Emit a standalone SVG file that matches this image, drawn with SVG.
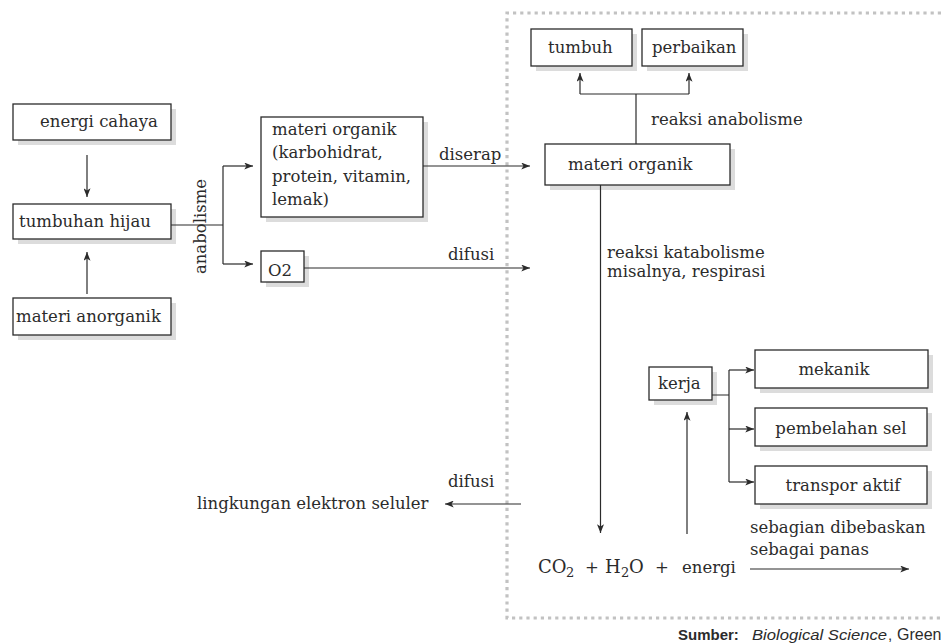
<svg xmlns="http://www.w3.org/2000/svg" width="941" height="644" viewBox="0 0 941 644">
<style>
.box{fill:#fff;stroke:#2b2b2b;stroke-width:1.3}
.sh{fill:#dcdcdc}
.t{font-family:"DejaVu Serif","Liberation Serif",serif;font-size:16.5px;fill:#2b2b2b}
.big{font-size:18px}
.sub{font-size:13px}
.ln{fill:none;stroke:#2b2b2b;stroke-width:1.2}
.ar{marker-end:url(#ah)}
.sans{font-family:"Liberation Sans",Arial,sans-serif;font-size:15px;fill:#2b2b2b}
</style>
<defs>
<marker id="ah" viewBox="0 0 10 8" refX="10" refY="4" markerWidth="9" markerHeight="7" markerUnits="userSpaceOnUse" orient="auto">
<path d="M0,0 L10,4 L0,8 L2.5,4 z" fill="#2b2b2b"/>
</marker>
</defs>
<rect width="941" height="644" fill="#fff"/>
<path d="M941,13 H507 V618 H941" fill="none" stroke="#c2c2c2" stroke-width="3.2" stroke-dasharray="3.2 4"/>

<g id="energi-cahaya"><rect class="sh" x="18" y="109" width="158" height="36"/><rect class="box" x="13" y="104" width="158" height="36"/><text class="t" x="40" y="127">energi cahaya</text></g>
<g id="tumbuhan-hijau"><rect class="sh" x="18" y="209" width="158" height="35"/><rect class="box" x="13" y="204" width="158" height="35"/><text class="t" x="19" y="227">tumbuhan hijau</text></g>
<g id="materi-anorganik"><rect class="sh" x="18" y="303" width="158" height="37"/><rect class="box" x="13" y="298" width="158" height="37"/><text class="t" x="16" y="322">materi anorganik</text></g>
<g id="materi-organik-kiri"><rect class="sh" x="266" y="122" width="162" height="100"/><rect class="box" x="261" y="117" width="162" height="100"/>
<text class="t" x="272" y="135">materi organik</text><text class="t" x="272" y="158">(karbohidrat,</text><text class="t" x="272" y="182">protein, vitamin,</text><text class="t" x="272" y="205">lemak)</text></g>
<g id="o2"><rect class="sh" x="266" y="256" width="43" height="31"/><rect class="box" x="261" y="251" width="43" height="31"/><text class="t" x="268" y="276">O2</text></g>
<g id="tumbuh"><rect class="sh" x="536" y="34" width="101" height="37"/><rect class="box" x="531" y="29" width="101" height="37"/><text class="t" x="548" y="53">tumbuh</text></g>
<g id="perbaikan"><rect class="sh" x="647" y="34" width="101" height="37"/><rect class="box" x="642" y="29" width="101" height="37"/><text class="t" x="652" y="53">perbaikan</text></g>
<g id="materi-organik-kanan"><rect class="sh" x="550" y="149" width="185" height="41"/><rect class="box" x="545" y="144" width="185" height="41"/><text class="t" x="568" y="170">materi organik</text></g>
<g id="kerja"><rect class="sh" x="654" y="372" width="63" height="33"/><rect class="box" x="649" y="367" width="63" height="33"/><text class="t" x="658" y="389">kerja</text></g>
<g id="mekanik"><rect class="sh" x="760" y="355" width="173" height="38"/><rect class="box" x="755" y="350" width="173" height="38"/><text class="t" x="834" y="375" text-anchor="middle">mekanik</text></g>
<g id="pembelahan-sel"><rect class="sh" x="760" y="413" width="172" height="38"/><rect class="box" x="755" y="408" width="172" height="38"/><text class="t" x="841" y="434" text-anchor="middle">pembelahan sel</text></g>
<g id="transpor-aktif"><rect class="sh" x="760" y="471" width="172" height="38"/><rect class="box" x="755" y="466" width="172" height="38"/><text class="t" x="843" y="491" text-anchor="middle">transpor aktif</text></g>

<g id="connectors">
<path class="ln ar" d="M87,155 V197"/>
<path class="ln ar" d="M87,294 V252"/>
<path class="ln" d="M171,225 H223 M223,166 V264"/>
<path class="ln ar" d="M223,166 H253"/>
<path class="ln ar" d="M223,264 H253"/>
<path class="ln ar" d="M423,166 H530"/>
<path class="ln ar" d="M304,268 H530"/>
<path class="ln" d="M636,144 V94 M580,94 H689"/>
<path class="ln ar" d="M580,94 V73"/>
<path class="ln ar" d="M689,94 V73"/>
<path class="ln ar" d="M600.5,185 V533"/>
<path class="ln ar" d="M687,534 V412"/>
<path class="ln" d="M712,395 H729 M729,370 V482"/>
<path class="ln ar" d="M729,370 H754"/>
<path class="ln ar" d="M729,429 H754"/>
<path class="ln ar" d="M729,482 H754"/>
<path class="ln ar" d="M750,569 H909"/>
<path class="ln ar" d="M521,504 H445"/>
</g>

<g id="labels">
<text class="t" transform="translate(206,226.5) rotate(-90)" text-anchor="middle">anabolisme</text>
<text class="t" x="439" y="160">diserap</text>
<text class="t" x="448" y="260">difusi</text>
<text class="t" x="651" y="125">reaksi anabolisme</text>
<text class="t" x="607" y="258">reaksi katabolisme</text>
<text class="t" x="607" y="277">misalnya, respirasi</text>
<text class="t" x="448" y="487">difusi</text>
<text class="t" x="197" y="509">lingkungan elektron seluler</text>
<text class="t" x="750" y="533">sebagian dibebaskan</text>
<text class="t" x="750" y="555">sebagai panas</text>
<text class="t big" x="538" y="573">CO</text>
<text class="t sub" x="566" y="577">2</text>
<text class="t" x="585" y="573">+</text>
<text class="t big" x="605" y="573">H</text>
<text class="t sub" x="621" y="577">2</text>
<text class="t big" x="629" y="573">O</text>
<text class="t" x="655" y="573">+</text>
<text class="t" x="682" y="573">energi</text>
<text class="sans" x="678" y="640" font-weight="bold">Sumber:</text>
<text class="sans" x="752" y="640" font-style="italic" textLength="135" lengthAdjust="spacingAndGlyphs">Biological Science</text>
<text class="sans" x="888" y="640">,</text>
<text class="sans" x="897" y="640" style="font-size:16px">Green</text>
</g>
</svg>
